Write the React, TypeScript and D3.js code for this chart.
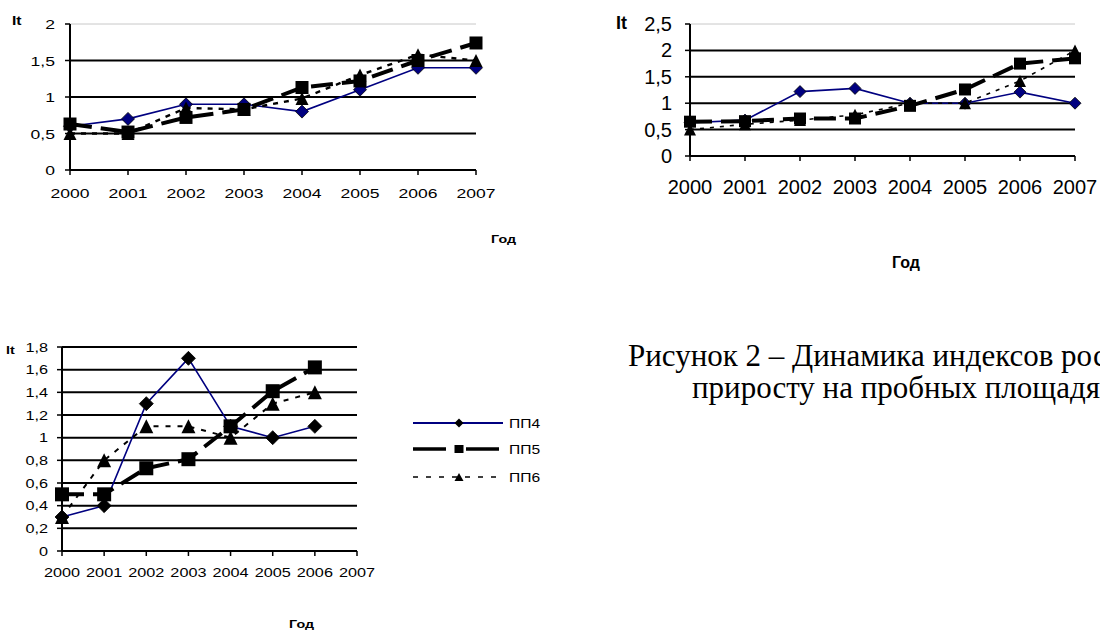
import * as d3 from 'd3'

const years = ['2000', '2001', '2002', '2003', '2004', '2005', '2006', '2007']
const seriesNames = ['ПП4', 'ПП5', 'ПП6']

// top-left chart
const leftPP4 = [0.6, 0.7, 0.9, 0.9, 0.8, 1.1, 1.4, 1.4]
const leftPP5 = [0.63, 0.52, 0.72, 0.83, 1.13, 1.22, 1.5, 1.74]
const leftPP6 = [0.5, 0.5, 0.85, 0.83, 0.98, 1.3, 1.58, 1.5]
const leftTicks = [0, 0.5, 1, 1.5, 2]

// top-right chart
const rightPP4 = [0.63, 0.68, 1.22, 1.28, 1.0, 1.0, 1.21, 1.0]
const rightPP5 = [0.65, 0.66, 0.71, 0.71, 0.95, 1.26, 1.75, 1.85]
const rightPP6 = [0.5, 0.6, 0.68, 0.78, 1.0, 1.0, 1.42, 2.0]
const rightTicks = [0, 0.5, 1, 1.5, 2, 2.5]

// bottom chart (no 2007 value)
const bottomPP4 = [0.3, 0.4, 1.3, 1.7, 1.1, 1.0, 1.1]
const bottomPP5 = [0.5, 0.5, 0.73, 0.81, 1.1, 1.41, 1.62]
const bottomPP6 = [0.3, 0.8, 1.1, 1.1, 1.0, 1.3, 1.4]
const bottomTicks = [0, 0.2, 0.4, 0.6, 0.8, 1, 1.2, 1.4, 1.6, 1.8]

const captionLines = ['Рисунок 2 – Динамика индексов роста по', 'приросту на пробных площадях']

const SANS = 'Liberation Sans, Arial, sans-serif'
const fmt = (v: number) => String(v).replace('.', ',')

type TProps = {
  x: number
  y: number
  sx?: number
  size: number
  anchor?: 'start' | 'middle' | 'end'
  bold?: boolean
  children: any
}

const T = ({ x, y, sx = 1, size, anchor = 'start', bold, children }: TProps) => (
  <text
    transform={`translate(${x},${y}) scale(${sx},1)`}
    fontSize={size}
    fontFamily={SANS}
    fontWeight={bold ? 'bold' : 'normal'}
    textAnchor={anchor}
    fill="#000"
  >
    {children}
  </text>
)

const marker = (kind: number, w: number, h: number) => {
  if (kind === 0) return `M0,${-h / 2}L${w / 2},0L0,${h / 2}L${-w / 2},0Z`
  if (kind === 1) return `M${-w / 2},${-h / 2}h${w}v${h}h${-w}Z`
  return `M0,${-h / 2}L${w / 2},${h / 2}L${-w / 2},${h / 2}Z`
}

const lineStyles = [
  { stroke: '#000080', width: 1.6, dash: undefined as string | undefined },
  { stroke: '#000', width: 4, dash: '22,9' },
  { stroke: '#000', width: 2, dash: '5,6' },
]

type ChartProps = {
  series: number[][]
  ticks: number[]
  xr: [number, number]
  yr: [number, number]
  font: number
  sx: number
  xLabelY: number
  yLabelX: number
  yLabelDy: number
  mw: number
  mh: number
  diamondFill: string
  topGray: boolean
  it: [number, number, number]
  god: [number, number, number]
  pp6Dash?: string
  pp6Width?: number
}

const Chart = (p: ChartProps) => {
  const x = d3.scalePoint<string>().domain(years).range(p.xr)
  const y = d3.scaleLinear().domain([0, p.ticks[p.ticks.length - 1]]).range(p.yr)
  const [x0, x1] = p.xr
  const maxT = p.ticks[p.ticks.length - 1]
  const line = d3
    .line<number>()
    .x((_, i) => x(years[i])!)
    .y((d) => y(d))

  return (
    <g>
      {p.ticks
        .filter((t) => t > 0)
        .map((t) => (
          <line
            key={t}
            x1={x0}
            x2={x1}
            y1={y(t)}
            y2={y(t)}
            stroke={t === maxT && p.topGray ? '#c8c8c8' : '#000'}
            strokeWidth={t === maxT && p.topGray ? 1 : 2}
          />
        ))}
      <line x1={x0} x2={x0} y1={y(0)} y2={y(maxT)} stroke="#000" strokeWidth={2} />
      <line x1={x0} x2={x1} y1={y(0)} y2={y(0)} stroke="#000" strokeWidth={2} />
      {p.ticks.map((t) => (
        <g key={t}>
          <line x1={x0 - 5} x2={x0} y1={y(t)} y2={y(t)} stroke="#000" strokeWidth={1.5} />
          <T x={p.yLabelX} y={y(t) + p.yLabelDy} sx={p.sx} size={p.font} anchor="end">
            {fmt(t)}
          </T>
        </g>
      ))}
      {years.map((yr) => (
        <g key={yr}>
          <line x1={x(yr)} x2={x(yr)} y1={y(0)} y2={y(0) + 5} stroke="#000" strokeWidth={1.5} />
          <T x={x(yr)!} y={p.xLabelY} sx={p.sx} size={p.font} anchor="middle">
            {yr}
          </T>
        </g>
      ))}
      <T x={p.it[0]} y={p.it[1]} sx={p.sx} size={p.it[2]} bold>
        It
      </T>
      <T x={p.god[0]} y={p.god[1]} sx={p.sx} size={p.god[2]} bold>
        Год
      </T>
      {p.series.map((vals, si) => {
        const st = lineStyles[si]
        const dash = si === 2 && p.pp6Dash ? p.pp6Dash : st.dash
        const sw = si === 2 && p.pp6Width ? p.pp6Width : st.width
        return (
          <g key={si}>
            <path d={line(vals) || ''} fill="none" stroke={st.stroke} strokeWidth={sw} strokeDasharray={dash} />
            {vals.map((v, i) => (
              <path
                key={i}
                transform={`translate(${x(years[i])},${y(v)})`}
                d={marker(si, p.mw, p.mh)}
                fill={si === 0 ? p.diamondFill : '#000'}
                stroke="#000"
                strokeWidth={si === 0 ? 0.8 : 0}
              />
            ))}
          </g>
        )
      })}
    </g>
  )
}

const Legend = () => {
  const rows = [423, 449, 477]
  return (
    <g>
      {seriesNames.map((name, i) => {
        const st = lineStyles[i]
        return (
          <g key={name}>
            <line
              x1={413}
              x2={503}
              y1={rows[i]}
              y2={rows[i]}
              stroke={st.stroke}
              strokeWidth={i === 1 ? 3.6 : i === 0 ? 1.8 : 1.5}
              strokeDasharray={i === 1 ? '33,20,33' : i === 2 ? '5,8' : undefined}
            />
            <path transform={`translate(459,${rows[i]})`} d={marker(i, 9, i === 0 ? 9 : 8)} fill="#000" />
            <T x={509} y={rows[i] + 4.5} sx={1.3} size={12}>
              {name}
            </T>
          </g>
        )
      })}
    </g>
  )
}

export default function App() {
  return (
    <div style={{ position: 'absolute', left: 0, top: 0 }}>
      <svg width={1100} height={632} style={{ display: 'block', background: '#fff' }}>
        <Chart
          series={[leftPP4, leftPP5, leftPP6]}
          ticks={leftTicks}
          xr={[70, 476]}
          yr={[170, 24]}
          font={13.5}
          sx={1.3}
          xLabelY={198}
          yLabelX={55}
          yLabelDy={5}
          mw={13}
          mh={13}
          diamondFill="#000080"
          topGray
          it={[12, 25, 12]}
          god={[491, 243, 11]}
          pp6Width={2.4}
        />
        <Chart
          series={[rightPP4, rightPP5, rightPP6]}
          ticks={rightTicks}
          xr={[690, 1075]}
          yr={[156, 24]}
          font={20}
          sx={1}
          xLabelY={194}
          yLabelX={672}
          yLabelDy={7}
          mw={12}
          mh={12}
          diamondFill="#000080"
          topGray
          it={[616, 29, 18]}
          god={[892, 268, 16]}
          pp6Dash="4,6"
          pp6Width={1.6}
        />
        <Chart
          series={[bottomPP4, bottomPP5, bottomPP6]}
          ticks={bottomTicks}
          xr={[62, 357]}
          yr={[551, 347]}
          font={12.5}
          sx={1.3}
          xLabelY={577}
          yLabelX={48}
          yLabelDy={4.5}
          mw={14}
          mh={14}
          diamondFill="#000"
          topGray={false}
          it={[6, 354, 11]}
          god={[289, 628, 11]}
          pp6Dash="5,7"
        />
        <Legend />
        {captionLines.map((s, i) => (
          <text
            key={i}
            x={i === 0 ? 628 : 692}
            y={i === 0 ? 366 : 398}
            fontSize={31}
            fontFamily="Liberation Serif, Times New Roman, serif"
            fill="#000"
          >
            {s}
          </text>
        ))}
      </svg>
    </div>
  )
}
